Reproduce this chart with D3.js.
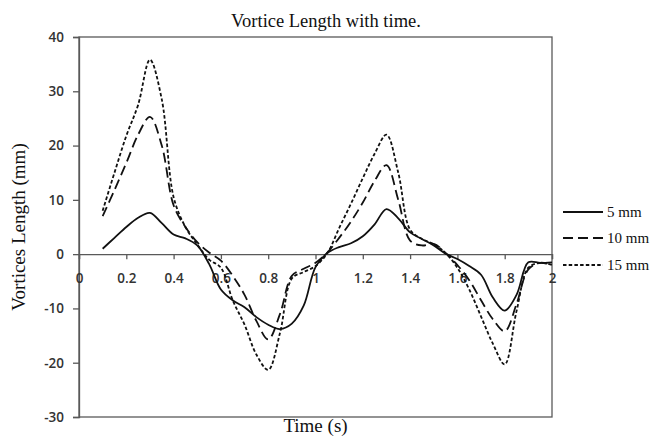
<!DOCTYPE html>
<html><head><meta charset="utf-8">
<script src="https://cdn.jsdelivr.net/npm/d3@7/dist/d3.min.js"></script>
<style>body{margin:0;background:#fff}svg{display:block}</style>
</head><body>
<svg id="chart" width="655" height="437"></svg>
<script>
const time = [0.10,0.15,0.20,0.25,0.30,0.35,0.40,0.45,0.50,0.55,0.60,0.65,0.70,0.75,0.80,0.85,0.90,0.95,1.00,
              1.05,1.10,1.15,1.20,1.25,1.30,1.35,1.40,1.45,1.50,1.55,1.60,1.65,1.70,1.75,1.80,1.85,1.90,1.95,2.00];
const mm5  = [1,3,5,6.7,7.6,5.7,3.6,2.9,1.6,-1.8,-6.5,-8.5,-9.8,-11.6,-13,-13.8,-12.8,-9.5,-2.4,
              0.2,1.3,2,3.3,5.5,8.3,6.6,4,2.8,1.6,0.1,-0.9,-2.2,-3.8,-8,-10.4,-7.5,-1.5,-1.6,-1.5];
const mm10 = [7,11.8,16.8,22,25.3,20,9,5,2.2,0.3,-1.2,-4,-7.5,-12.3,-15.7,-11,-4,-2.7,-1.6,
              0.3,3,6,9.5,13.5,16.4,10,2.5,1.6,1.9,0.2,-2,-4.8,-8.5,-12,-14.2,-9.2,-2.8,-1.6,-2];
const mm15 = [8,15,21.8,27.5,35.8,28.5,10.5,5,1.8,-1,-2.5,-8.5,-13,-18.5,-21.3,-14.5,-4.5,-3.3,-2.2,
              0.2,4.8,9.3,14,18.5,22,15,4.5,2.8,1.8,0.2,-2.5,-6.5,-11.5,-16.5,-20.3,-10.5,-2.5,-1.6,-2];
const seriesNames = ["5 mm","10 mm","15 mm"];
const xTicks = [0,0.2,0.4,0.6,0.8,1,1.2,1.4,1.6,1.8,2];
const yTicks = [-30,-20,-10,0,10,20,30,40];

const svg = d3.select("#chart");
const L=79, R=552, T=37, B=417;
const x = d3.scaleLinear().domain([0,2]).range([L,R]);
const y = d3.scaleLinear().domain([-30,40]).range([B,T]);
const axisColor = "#595959";
const numFont = "'Open Sans', sans-serif";
const serif = "'Liberation Serif', 'DejaVu Serif', serif";

// frame
svg.append("rect").attr("x",L).attr("y",T).attr("width",R-L).attr("height",B-T)
  .attr("fill","none").attr("stroke",axisColor).attr("stroke-width",1.3);

// y axis
const yAxis = svg.append("g").attr("transform",`translate(${L},0)`)
  .call(d3.axisLeft(y).tickValues(yTicks).tickSize(6).tickPadding(9).tickFormat(d=>String(d)));
yAxis.select(".domain").attr("stroke",axisColor).attr("stroke-width",1.3);
yAxis.selectAll(".tick line").attr("stroke",axisColor).attr("stroke-width",1.3);
yAxis.selectAll("text").attr("font-family",numFont).attr("font-size",13.5).attr("font-weight",600).attr("fill","#333");

// x axis at zero
const xAxis = svg.append("g").attr("transform",`translate(0,${y(0)})`)
  .call(d3.axisBottom(x).tickValues(xTicks).tickSize(5).tickPadding(14).tickFormat(d=>String(d)));
xAxis.select(".domain").attr("stroke",axisColor).attr("stroke-width",1.3);
xAxis.selectAll(".tick line").attr("stroke",axisColor).attr("stroke-width",1.3);
xAxis.selectAll("text").attr("font-family",numFont).attr("font-size",13.5).attr("font-weight",600).attr("fill","#333");

// lines
const dashes = [null,"10,5","3.5,2.2"];
const allSeries = [mm5,mm10,mm15];
const line = d3.line().x((d,i)=>x(time[i])).y(d=>y(d)).curve(d3.curveCatmullRom.alpha(0.5));
allSeries.forEach((s,k)=>{
  svg.append("path").datum(s).attr("d",line).attr("fill","none")
    .attr("stroke","#111").attr("stroke-width",1.8)
    .attr("stroke-dasharray",dashes[k]);
});

// title & labels
svg.append("text").attr("x",326).attr("y",27).attr("text-anchor","middle")
  .attr("font-family",serif).attr("font-size",18.5).attr("fill","#111").text("Vortice Length with time.");
svg.append("text").attr("transform",`translate(25,${(T+B)/2}) rotate(-90)`).attr("text-anchor","middle")
  .attr("font-family",serif).attr("font-size",19).attr("fill","#111").text("Vortices Length (mm)");
svg.append("text").attr("x",(L+R)/2).attr("y",432).attr("text-anchor","middle")
  .attr("font-family",serif).attr("font-size",19).attr("fill","#111").text("Time (s)");

// legend
const legY = [212,238,265];
seriesNames.forEach((n,k)=>{
  svg.append("line").attr("x1",563).attr("x2",603).attr("y1",legY[k]).attr("y2",legY[k])
    .attr("stroke","#111").attr("stroke-width",1.8).attr("stroke-dasharray",dashes[k]);
  svg.append("text").attr("x",607).attr("y",legY[k]+5).attr("font-family",serif)
    .attr("font-size",15).attr("fill","#111").text(n);
});
</script>
</body></html>
